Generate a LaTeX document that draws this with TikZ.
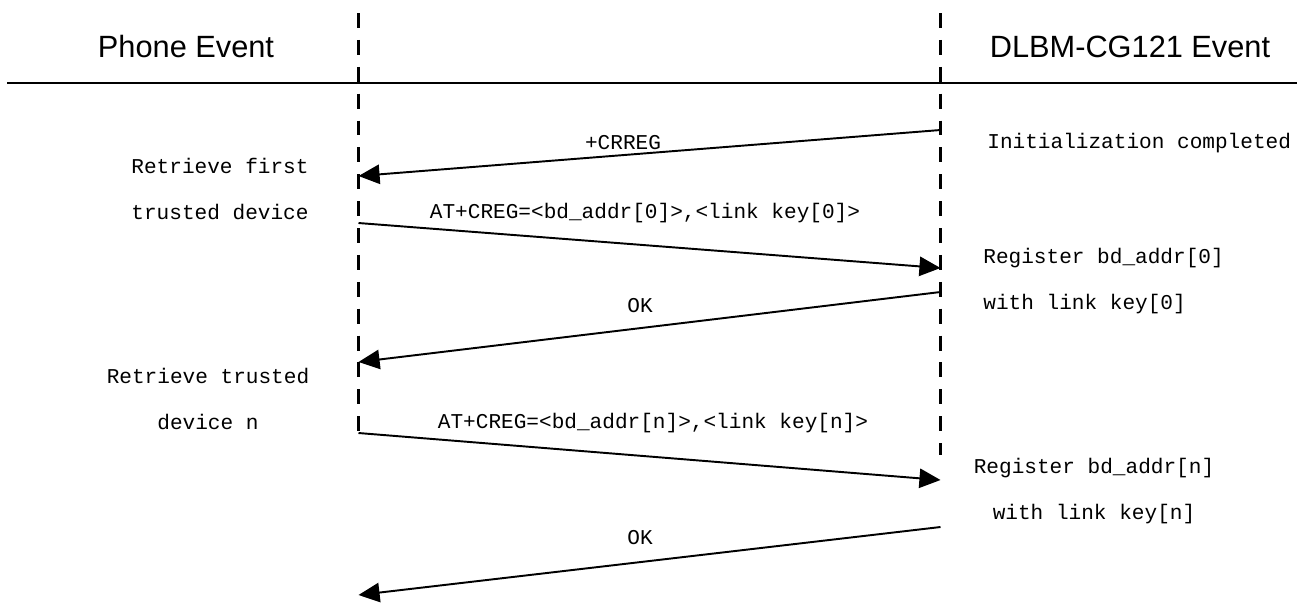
\documentclass[tikz,border=0pt]{standalone}
\usepackage{fontspec}
\setmainfont{Liberation Mono}
\newfontfamily\headfont{Liberation Sans}
\usetikzlibrary{arrows.meta}
\tikzset{%
lifeline/.style={line width=1.8pt, dash pattern=on 8.5pt off 6.8pt},
msg/.style={line width=1.1pt, -{Triangle[length=12pt,width=11pt]}},
head/.style={font=\headfont\fontsize{17.5}{20}\selectfont, inner sep=0pt},
lbl/.style={font=\fontsize{12}{26}\selectfont, inner sep=0pt},
}

\begin{document}
\begin{tikzpicture}[x=0.02cm, y=-0.02cm]
 \useasboundingbox (0,0) rectangle (1297,603);
 % headings
 \node[head] (phone) at (186,47) {Phone Event};
 \node[head] (dlbm) at (1130,47) {DLBM-CG121 Event};
 \coordinate (hl) at (7,83);
 \coordinate (hr) at (1297,83);
 \draw[line width=1.2pt] (hl)--(hr);
 % life lines
 \coordinate (pt) at (358.5,13);
 \coordinate (dt) at (940.5,13);
 \coordinate (m1a) at (940.5,130); \coordinate (m1b) at (358.5,176);
 \coordinate (m2a) at (358.5,223); \coordinate (m2b) at (940.5,268);
 \coordinate (m3a) at (940.5,292); \coordinate (m3b) at (358.5,362);
 \coordinate (m4a) at (358.5,433); \coordinate (m4b) at (940.5,480);
 \coordinate (m5a) at (940.5,527); \coordinate (m5b) at (358.5,595);
 \coordinate (db) at (940.5,455);
 \draw[lifeline] (pt)--(m4a);
 \draw[lifeline] (dt)--(db);
 % messages
 \draw[msg] (m1a)--(m1b);
 \draw[msg] (m2a)--(m2b);
 \draw[msg] (m3a)--(m3b);
 \draw[msg] (m4a)--(m4b);
 \draw[msg] (m5a)--(m5b);
 \node[lbl] (crreg) at (623,143) {+CRREG};
 \node[lbl] (creg0) at (645,213) {AT+CREG=<bd\_addr[0]>,<link key[0]>};
 \node[lbl] (ok0) at (640,306) {OK};
 \node[lbl] (cregn) at (653,423) {AT+CREG=<bd\_addr[n]>,<link key[n]>};
 \node[lbl] (okn) at (640,538) {OK};
 % events
 \node[lbl,align=center] (ret0) at (220,189) {Retrieve first\\trusted device};
 \node[lbl,align=center] (retn) at (208,399) {Retrieve trusted\\device n};
 \node[lbl,anchor=west] (init) at (987,143) {Initialization completed};
 \node[lbl,align=left,anchor=west] (reg0) at (983,281) {Register bd\_addr[0]\\with link key[0]};
 \node[lbl,align=center] (regn) at (1094,491) {Register bd\_addr[n]\\with link key[n]};
\end{tikzpicture}
\end{document}
